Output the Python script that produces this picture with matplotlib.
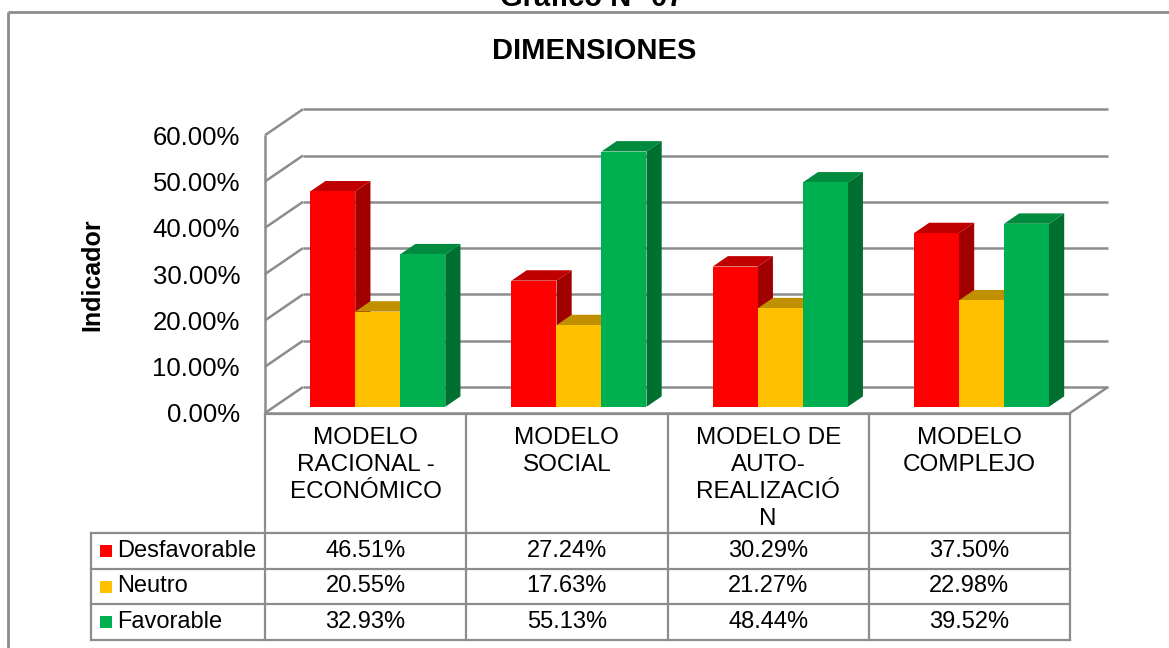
import matplotlib
matplotlib.use("Agg")
import matplotlib.pyplot as plt
from matplotlib.patches import Polygon, Rectangle

plt.rcParams['font.family'] = ['Liberation Sans', 'DejaVu Sans']

# ---------------- data ----------------
categories = ["MODELO\nRACIONAL -\nECONÓMICO", "MODELO\nSOCIAL",
              "MODELO DE\nAUTO-\nREALIZACIÓ\nN", "MODELO\nCOMPLEJO"]
series_names = ["Desfavorable", "Neutro", "Favorable"]
desfavorable = [46.51, 27.24, 30.29, 37.50]
neutro = [20.55, 17.63, 21.27, 22.98]
favorable = [32.93, 55.13, 48.44, 39.52]
series_values = [desfavorable, neutro, favorable]
yticks = [0, 10, 20, 30, 40, 50, 60]
title = "DIMENSIONES"
suptitle = "Gráfico N° 07"
ylabel = "Indicador"

front_colors = ["#FF0000", "#FFC000", "#00B050"]
top_colors = ["#C00000", "#C09000", "#008A3E"]
side_colors = ["#A00000", "#A07800", "#007030"]
grid_color = "#8C8C8C"

W, H = 1169, 648
fig = plt.figure(figsize=(W / 100, H / 100), dpi=100)

# overlay axes in pixel coordinates for frame / table
ov = fig.add_axes([0, 0, 1, 1])
ov.set_xlim(0, W)
ov.set_ylim(H, 0)
ov.axis('off')

# ---------------- main 3D-like plot axes ----------------
cat_px = 201.25          # px per category
y_px = 4.63              # px per percent
x0_px, y0_px = 265, 413  # front-left-bottom corner
right_px, top_px = 1115, 95
ax = fig.add_axes([x0_px / W, (H - y0_px) / H, (right_px - x0_px) / W, (y0_px - top_px) / H])
ax.set_xlim(0, (right_px - x0_px) / cat_px)
ax.set_ylim(0, (y0_px - top_px) / y_px)
ax.patch.set_alpha(0)
for s in ax.spines.values():
    s.set_visible(False)
ax.set_xticks([])

n = len(categories)
DX = 38 / cat_px
DY = 26 / y_px
ymax = yticks[-1]

# walls / gridlines
gl = dict(color=grid_color, lw=1.8, zorder=1, clip_on=False, solid_capstyle='butt')
for t in yticks:
    ax.plot([0, DX], [t, t + DY], **gl)
    ax.plot([DX, n + DX], [t + DY, t + DY], **gl)
ax.plot([0, 0], [0, ymax], **gl)
ax.plot([0, n], [0, 0], **gl)
ax.plot([n, n + DX], [0, DY], **gl)

# bars
d0 = 0.24
bd = 0.40
w = 0.2236
shift = 3 / cat_px
b0 = d0 * DY
for k, vals in enumerate(series_values):
    xs = [i + 0.5 + d0 * DX + shift + (k - 1) * w for i in range(n)]
    z = 3 + k
    for x, v in zip(xs, vals):
        xl, xr = x - w / 2, x + w / 2
        top = b0 + v
        side = Polygon([(xr, b0), (xr, top), (xr + bd * DX, top + bd * DY), (xr + bd * DX, b0 + bd * DY)],
                       closed=True, facecolor=side_colors[k], edgecolor='none', zorder=z)
        topf = Polygon([(xl, top), (xr, top), (xr + bd * DX, top + bd * DY), (xl + bd * DX, top + bd * DY)],
                       closed=True, facecolor=top_colors[k], edgecolor='none', zorder=z)
        ax.add_patch(side)
        ax.add_patch(topf)
    ax.bar(xs, vals, width=w, bottom=b0, color=front_colors[k], edgecolor='none', zorder=z + 0.5)

ax.set_yticks(yticks)
ax.set_yticklabels([f"{t:.2f}%" for t in yticks], fontsize=18.5)
ax.tick_params(axis='y', length=0, pad=18)
ax.set_ylabel(ylabel, fontsize=18, fontweight='bold')
ax.yaxis.set_label_coords((104 - x0_px) / (right_px - x0_px), (y0_px - 275) / (y0_px - top_px))

# ---------------- titles ----------------
ov.text(592, 6, suptitle, ha='center', va='baseline', fontsize=21, fontweight='bold')
ov.text(594, 51, title, ha='center', va='center', fontsize=21, fontweight='bold')

# chart frame
fr = dict(color="#8C8C8C", lw=2, solid_capstyle='butt')
ov.plot([8, 8], [12, H + 2], **fr)
ov.plot([8, W + 2], [12, 12], **fr)

# ---------------- data table ----------------
col_x = [265 + i * cat_px for i in range(n + 1)]
header_top = 414
row_y = [533, 569, 604, 640]
leg_left = 91
tl = dict(color=grid_color, lw=1.6, solid_capstyle='projecting')
for cx in col_x:
    ov.plot([cx, cx], [header_top, row_y[-1]], **tl)
ov.plot([leg_left, leg_left], [row_y[0], row_y[-1]], **tl)
ov.plot([col_x[0], col_x[-1]], [header_top, header_top], **tl)
for ry in row_y:
    ov.plot([leg_left, col_x[-1]], [ry, ry], **tl)

for i, cat in enumerate(categories):
    cx = (col_x[i] + col_x[i + 1]) / 2
    ov.text(cx, 427, cat, ha='center', va='top', fontsize=17.5, linespacing=1.3)

for r, (name, vals) in enumerate(zip(series_names, series_values)):
    cy = (row_y[r] + row_y[r + 1]) / 2
    ov.add_patch(Rectangle((100, cy - 6), 12, 12, facecolor=front_colors[r], edgecolor='none'))
    ov.text(117, cy, name, ha='left', va='center', fontsize=17)
    for i, v in enumerate(vals):
        cx = (col_x[i] + col_x[i + 1]) / 2
        ov.text(cx, cy, f"{v:.2f}%", ha='center', va='center', fontsize=17)

fig.savefig("out.png", dpi=100)
